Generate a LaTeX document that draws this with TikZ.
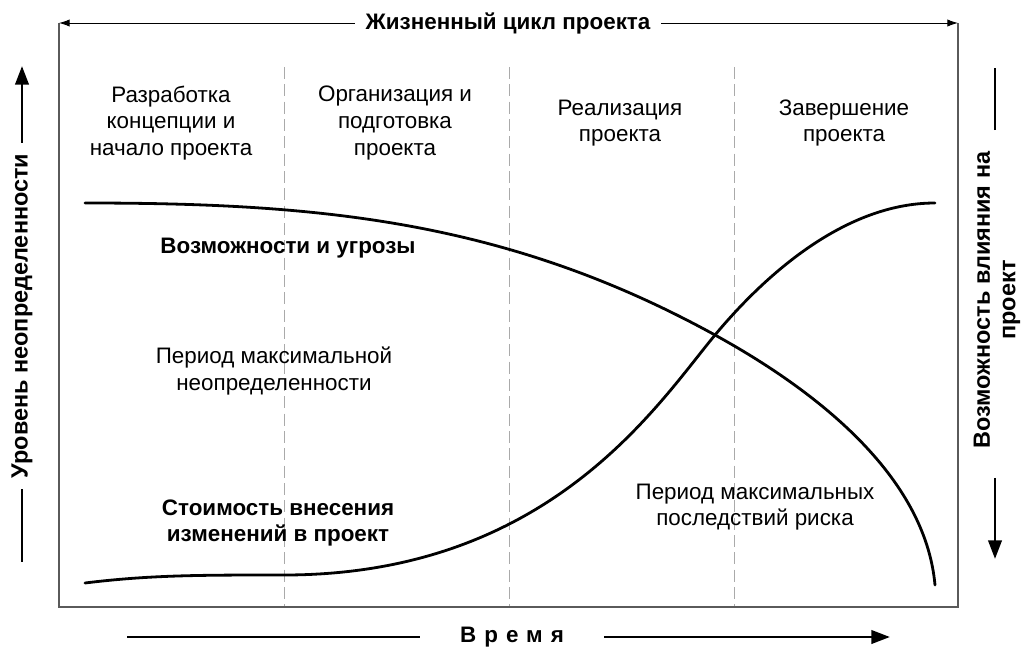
\documentclass[tikz,border=0pt]{standalone}
\usepackage{fontspec}
\setmainfont{Liberation Sans}
\usetikzlibrary{arrows.meta}

\begin{document}
\begin{tikzpicture}[x=0.75pt,y=0.75pt,yscale=-1,xscale=1,
  phase/.style={align=center,inner sep=0.75pt,font=\fontsize{16.8}{20}\selectfont},
  boldlbl/.style={align=center,inner sep=0.75pt,font=\bfseries\fontsize{16.8}{20}\selectfont},
  sidelbl/.style={rotate=90,align=center,inner sep=8pt,font=\bfseries\fontsize{17.6}{19}\selectfont},
  border/.style={draw={rgb,255:red,90;green,90;blue,90},line width=1.1pt},
  divider/.style={draw={rgb,255:red,170;green,170;blue,170},line width=0.6pt,dash pattern=on 9pt off 4pt},
  thinarrow/.style={line width=0.7pt,-{Latex[length=8pt,width=5.5pt]}},
  axisline/.style={line width=2.2pt},
  axisarrow/.style={line width=2.2pt,-{Triangle[length=14pt,width=10pt]}},
  curve/.style={line width=2.1pt,line cap=round}]
\useasboundingbox (0,0) rectangle (1024,660);

%Corners of the frame
\coordinate (tl) at (59,23);
\coordinate (tr) at (958,23);
\coordinate (bl) at (59,607);
\coordinate (br) at (958,607);

%Shape: Frame
\draw [border] (tl) -- (bl) -- (br) -- (tr);

%Straight Lines: phase dividers
\foreach \px in {284,509,734}
  \draw [divider] (\px,67) -- (\px,606);

% Text Node: life cycle
\draw (508,23) node (cycle) [boldlbl,inner sep=8pt] {Жизненный цикл проекта};
\draw [thinarrow] (cycle.west) -- (tl);
\draw [thinarrow] (cycle.east) -- (tr);

% Text Node: phases
\draw (171,123) node (concept) [phase] {Разработка\\концепции и\\начало проекта};
\draw (395,123) node (prepare) [phase] {Организация и\\подготовка\\проекта};
\draw (620,123) node (execute) [phase] {Реализация\\проекта};
\draw (844,123) node (closing) [phase] {Завершение\\проекта};

%Curve: opportunities and threats
\draw [curve] (85,203) .. controls (315,203) and (505,219.5) .. (715,335) .. controls (815,390) and (925,475) .. (935,585);
%Curve: cost of changes
\draw [curve] (85,583) .. controls (150,575) and (200,575) .. (284,575) .. controls (549,575) and (657,405) .. (715,335) .. controls (765,275) and (845,203) .. (935,203);

% Text Node: curve labels
\draw (288,248) node (risk) [boldlbl] {Возможности и угрозы};
\draw (274,371) node (uncertain) [phase] {Период максимальной\\неопределенности};
\draw (278,523) node (cost) [boldlbl] {Стоимость внесения\\изменений в проект};
\draw (755,507) node (impact) [phase] {Период максимальных\\последствий риска};

% Text Node: left axis
\draw (22,316) node (level) [sidelbl] {Уровень неопределенности};
\coordinate (levelTop) at (22,66);
\coordinate (levelBot) at (22,562);
\draw [axisarrow] (level.east) -- (levelTop);
\draw [axisline] (level.west) -- (levelBot);

% Text Node: right axis
\draw (997,300) node (influence) [sidelbl] {Возможность влияния на\\проект};
\coordinate (inflTop) at (995,68);
\coordinate (inflBot) at (995,559);
\draw [axisline,shorten <=8pt] (influence.east -| inflTop) -- (inflTop);
\draw [axisarrow,shorten <=14pt] (influence.west -| inflBot) -- (inflBot);

% Text Node: time axis
\draw (512,637) node (time) [boldlbl,inner sep=0pt,font=\bfseries\fontsize{16.8}{20}\selectfont\addfontfeature{LetterSpace=36}] {Время};
\coordinate (timeL) at (127,637);
\coordinate (timeR) at (890,637);
\draw [axisline] ([xshift=-30pt]time.west) -- (timeL);
\draw [axisarrow] ([xshift=30pt]time.east) -- (timeR);

\end{tikzpicture}
\end{document}
